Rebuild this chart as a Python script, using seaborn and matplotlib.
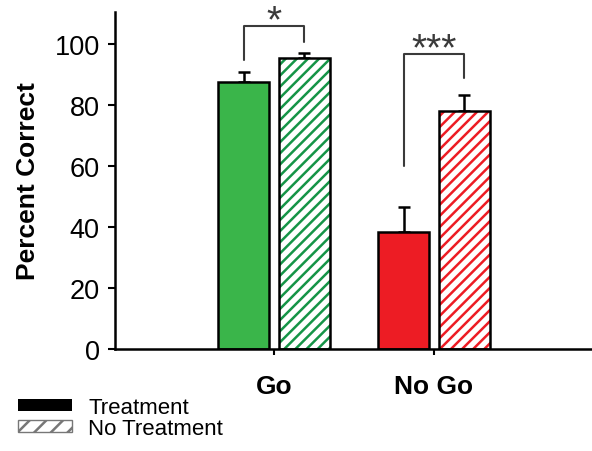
import numpy as np
import pandas as pd
import matplotlib
matplotlib.use("Agg")
import matplotlib.pyplot as plt
import seaborn as sns
from matplotlib.patches import Patch, Rectangle

# ---- data ----
conditions = ["Go", "No Go"]
treatments = ["Treatment", "No Treatment"]
treatment_means = [87.4, 38.3]      # Go, No Go
no_treatment_means = [95.4, 77.9]   # Go, No Go
treatment_sem = [3.3, 8.1]
no_treatment_sem = [1.6, 5.5]
y_ticks = [0, 20, 40, 60, 80, 100]

# significance annotations (per condition)
sig_labels = ["*", "***"]
bracket_top = [105.9, 96.7]
bracket_left_end = [94.8, 60.1]
bracket_right_end = [100.5, 88.9]

# colours
fill_colors = ["#3AB54A", "#ED1C24"]
hatch_colors = ["#159447", "#ED1C24"]

df = pd.DataFrame({
    "condition": conditions + conditions,
    "treatment": [treatments[0]] * 2 + [treatments[1]] * 2,
    "percent": treatment_means + no_treatment_means,
})
sems = [treatment_sem, no_treatment_sem]

sns.set_theme(style="ticks")
plt.rcParams["font.family"] = ["Liberation Sans", "DejaVu Sans"]
plt.rcParams["hatch.linewidth"] = 1.8
plt.rcParams["text.color"] = "black"

fig = plt.figure(figsize=(5.92, 4.52), dpi=100)
ax = fig.add_axes([115 / 592, 102 / 452, 477 / 592, 337 / 452])

sns.barplot(data=df, x="condition", y="percent", hue="treatment",
            order=conditions, hue_order=treatments, width=0.76, gap=0.17,
            errorbar=None, legend=False, ax=ax,
            edgecolor="black", linewidth=1.8)

bar_groups = list(ax.containers)

for ti, container in enumerate(bar_groups):
    for ci, bar in enumerate(container):
        if ti == 0:
            bar.set_facecolor(fill_colors[ci])
            bar.set_edgecolor("black")
        else:
            bar.set_facecolor("white")
            bar.set_edgecolor(hatch_colors[ci])
            bar.set_hatch("///")
            bar.set_linewidth(0)
            ax.add_patch(Rectangle(bar.get_xy(), bar.get_width(), bar.get_height(),
                                   fill=False, edgecolor="black", linewidth=1.8,
                                   zorder=bar.get_zorder() + 0.1))
        xc = bar.get_x() + bar.get_width() / 2
        ax.errorbar(xc, bar.get_height(), yerr=[[0], [sems[ti][ci]]],
                    color="black", lw=1.8, capsize=4.5, capthick=1.8, zorder=0.5)

# significance brackets
for ci in range(len(conditions)):
    b0 = bar_groups[0][ci]
    b1 = bar_groups[1][ci]
    xl = b0.get_x() + b0.get_width() / 2
    xr = b1.get_x() + b1.get_width() / 2
    ax.plot([xl, xl, xr, xr],
            [bracket_left_end[ci], bracket_top[ci], bracket_top[ci], bracket_right_end[ci]],
            color="#3a3a3a", lw=1.5, clip_on=False)
    ax.annotate(sig_labels[ci], xy=((xl + xr) / 2, bracket_top[ci]),
                xytext=(0, -4), textcoords="offset points",
                ha="center", va="baseline", fontsize=28, color="#3a3a3a",
                annotation_clip=False)

ax.set_xlim(-0.994, 1.9875)
ax.set_ylim(0, 110.5)
ax.set_yticks(y_ticks)
ax.set_xlabel("")
ax.set_ylabel("Percent Correct", fontsize=19, fontweight="bold", color="black")
ax.yaxis.set_label_coords(-0.157, 0.5)

sns.despine(ax=ax)
for s in ["left", "bottom"]:
    ax.spines[s].set_linewidth(1.8)
    ax.spines[s].set_color("black")
ax.tick_params(axis="y", length=5, width=1.5, labelsize=19.5, pad=6, colors="black")
ax.tick_params(axis="x", length=4, width=1.5, labelsize=19, pad=14, colors="black")
for lbl in ax.get_xticklabels():
    lbl.set_fontweight("bold")

handles = [Patch(facecolor="black", edgecolor="black", linewidth=0),
           Patch(facecolor="white", edgecolor="#777777", hatch="//", linewidth=1)]
fig.legend(handles=handles, labels=treatments, loc="upper left",
           bbox_to_anchor=(18 / 592, 0.12), frameon=False, fontsize=16,
           handlelength=2.45, handleheight=0.45, handletextpad=0.72,
           labelspacing=0.0, borderpad=0, borderaxespad=0,
           labelcolor="black")

fig.savefig("out.png", dpi=100, facecolor="white")
